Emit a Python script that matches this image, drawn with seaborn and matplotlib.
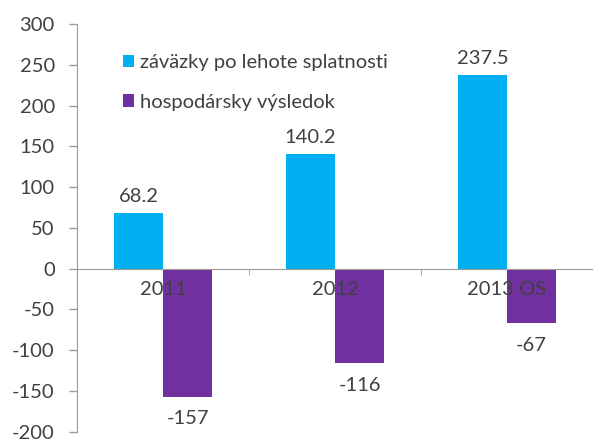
import matplotlib
matplotlib.use("Agg")
import matplotlib.pyplot as plt
import seaborn as sns
import pandas as pd

categories = ["2011", "2012", "2013 OS"]
zavazky = [68.2, 140.2, 237.5]
vysledok = [-157, -116, -67]
series_names = ["záväzky po lehote splatnosti", "hospodársky výsledok"]
colors = ["#00B0F0", "#7030A0"]
y_ticks = [-200, -150, -100, -50, 0, 50, 100, 150, 200, 250, 300]

sns.set_style("white")
plt.rcParams["font.family"] = ["Lato", "DejaVu Sans"]
plt.rcParams["axes.unicode_minus"] = False

df = pd.DataFrame({
    "rok": categories * 2,
    "hodnota": zavazky + vysledok,
    "rad": [series_names[0]] * 3 + [series_names[1]] * 3,
})

fig = plt.figure(figsize=(5.93, 4.45), dpi=100)
ax = fig.add_axes([0.13, 0.03, 0.87, 0.916])

sns.barplot(data=df, x="rok", y="hodnota", hue="rad", palette=colors,
            width=0.57, saturation=1, ax=ax, edgecolor="none")

text_color = "#404040"
axis_color = "#9a9a9a"
fs = 14.5

ax.set_axisbelow(False)
for p in ax.patches:
    p.set_zorder(1)

ax.set_xlim(-0.5, 2.5)
ax.set_ylim(-200, 300)
ax.set_yticks(y_ticks)
ax.set_xlabel("")
ax.set_ylabel("")

for s in ["top", "right"]:
    ax.spines[s].set_visible(False)
ax.spines["left"].set_color(axis_color)
ax.spines["bottom"].set_position(("data", 0))
ax.spines["bottom"].set_color(axis_color)

ax.tick_params(axis="y", direction="out", length=6, width=1, color=axis_color,
               labelsize=fs, labelcolor=text_color, pad=10, left=True)
ax.tick_params(axis="x", which="major", length=0, labelsize=fs,
               labelcolor=text_color, pad=9)
ax.set_xticks([0.5, 1.5], minor=True)
ax.tick_params(axis="x", which="minor", direction="out", length=4,
               color=axis_color, bottom=True)

for cont in ax.containers:
    vals = cont.datavalues
    labels = [f"{v:g}" for v in vals]
    pos = [l if v > 0 else "" for l, v in zip(labels, vals)]
    neg = [l if v < 0 else "" for l, v in zip(labels, vals)]
    ax.bar_label(cont, labels=pos, padding=6, fontsize=fs, color=text_color)
    ax.bar_label(cont, labels=neg, padding=10, fontsize=fs, color=text_color)

ax.legend(frameon=False, loc="upper left", bbox_to_anchor=(0.07, 0.95),
          fontsize=fs, handlelength=0.55, handleheight=0.55, handletextpad=0.3,
          labelspacing=1.1, borderpad=0, labelcolor=text_color)

fig.savefig("out.png", dpi=100)
